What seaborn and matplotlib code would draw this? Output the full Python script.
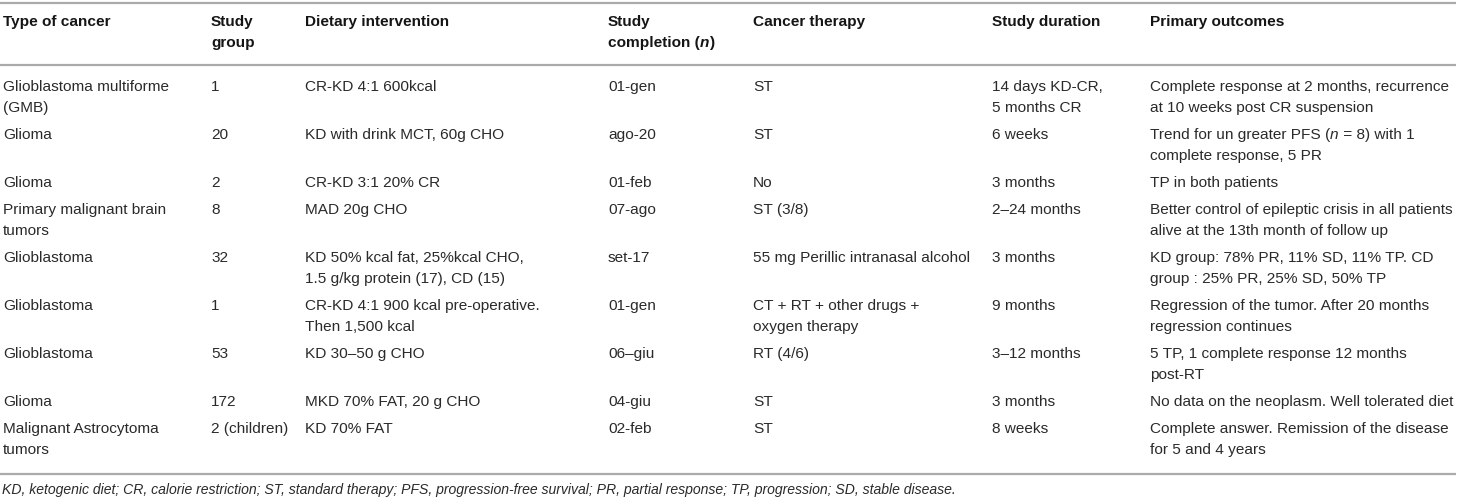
import matplotlib
matplotlib.use("Agg")
import matplotlib.pyplot as plt
import seaborn as sns

# contenuto della tabella (una lista per colonna, "\n" = a capo come nell'originale)
headers = ["Type of cancer", "Study\ngroup", "Dietary intervention", "Study\ncompletion (n)",
           "Cancer therapy", "Study duration", "Primary outcomes"]

cancer_types = ["Glioblastoma multiforme\n(GMB)", "Glioma", "Glioma", "Primary malignant brain\ntumors",
                "Glioblastoma", "Glioblastoma", "Glioblastoma", "Glioma", "Malignant Astrocytoma\ntumors"]
study_groups = ["1", "20", "2", "8", "32", "1", "53", "172", "2 (children)"]
interventions = ["CR-KD 4:1 600kcal", "KD with drink MCT, 60g CHO", "CR-KD 3:1 20% CR", "MAD 20g CHO",
                 "KD 50% kcal fat, 25%kcal CHO,\n1.5 g/kg protein (17), CD (15)",
                 "CR-KD 4:1 900 kcal pre-operative.\nThen 1,500 kcal",
                 "KD 30\u201350 g CHO", "MKD 70% FAT, 20 g CHO", "KD 70% FAT"]
completions = ["01-gen", "ago-20", "01-feb", "07-ago", "set-17", "01-gen", "06\u2013giu", "04-giu", "02-feb"]
therapies = ["ST", "ST", "No", "ST (3/8)", "55 mg Perillic intranasal alcohol",
             "CT + RT + other drugs +\noxygen therapy", "RT (4/6)", "ST", "ST"]
durations = ["14 days KD-CR,\n5 months CR", "6 weeks", "3 months", "2\u201324 months", "3 months",
             "9 months", "3\u201312 months", "3 months", "8 weeks"]
outcomes = ["Complete response at 2 months, recurrence\nat 10 weeks post CR suspension",
            "Trend for un greater PFS (n = 8) with 1\ncomplete response, 5 PR",
            "TP in both patients",
            "Better control of epileptic crisis in all patients\nalive at the 13th month of follow up",
            "KD group: 78% PR, 11% SD, 11% TP. CD\ngroup : 25% PR, 25% SD, 50% TP",
            "Regression of the tumor. After 20 months\nregression continues",
            "5 TP, 1 complete response 12 months\npost-RT",
            "No data on the neoplasm. Well tolerated diet",
            "Complete answer. Remission of the disease\nfor 5 and 4 years"]
footnote = ("KD, ketogenic diet; CR, calorie restriction; ST, standard therapy; PFS, progression-free survival; "
            "PR, partial response; TP, progression; SD, stable disease.")

columns = [cancer_types, study_groups, interventions, completions, therapies, durations, outcomes]

sns.set_theme(style="white")
plt.rcParams['font.family'] = ['Liberation Sans', 'DejaVu Sans']

W, H = 1458, 501
fig = plt.figure(figsize=(W / 100, H / 100), dpi=100)
ax = fig.add_axes([0, 0, 1, 1])
ax.set_xlim(0, W)
ax.set_ylim(H, 0)
ax.axis('off')

col_x = [3, 211, 305, 608, 753, 992, 1150]
fs = 11.1
lh = 21
txt_col = '#2a2a2a'
rule_col = '#aaaaaa'


def put_line(x, y, s, **kw):
    # gestisce la "n" in corsivo dentro al testo
    if "(n" in s:
        pre, post = s.split("(n", 1)
        t1 = ax.text(x, y, pre + "(", va='center', **kw)
        t2 = ax.annotate("n", xy=(1, 0), xycoords=t1, va='bottom', style='italic', **kw)
        ax.annotate(post, xy=(1, 0), xycoords=t2, va='bottom', **kw)
    else:
        ax.text(x, y, s, va='center', **kw)


# intestazione
for x, h in zip(col_x, headers):
    for k, line in enumerate(h.split("\n")):
        put_line(x, 22 + k * lh, line, fontsize=fs, fontweight='bold', color='#151515')

# righe
y = 87
for r in range(len(cancer_types)):
    nlines = max(len(col[r].split("\n")) for col in columns)
    for x, col in zip(col_x, columns):
        for k, line in enumerate(col[r].split("\n")):
            put_line(x, y + k * lh, line, fontsize=fs, color=txt_col)
    y += nlines * lh + 6

ax.hlines([3, 65, 474], 0, 1456, colors=rule_col, linewidth=1.6)

ax.text(2, 490, footnote, fontsize=10.1, style='italic', color=txt_col, va='center')

fig.savefig("out.png", dpi=100)
